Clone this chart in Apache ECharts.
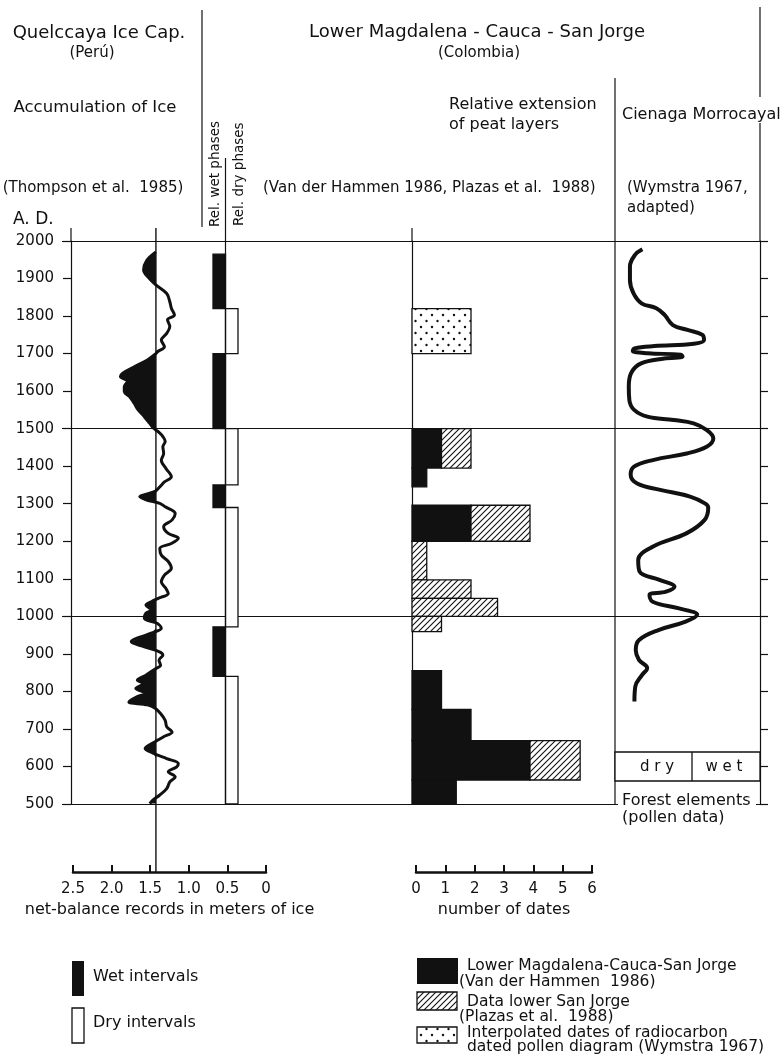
<!DOCTYPE html>
<html>
<head>
<meta charset="utf-8">
<script src="https://cdn.jsdelivr.net/npm/echarts@6/dist/echarts.min.js"></script>
<style>
  html, body { margin: 0; padding: 0; background: #fff; }
  #main { width: 781px; height: 1061px; }
</style>
</head>
<body>
<div id="main"></div>
<script>
var iceYears = [1971, 1948, 1923, 1901, 1883, 1860, 1838, 1821, 1803, 1790, 1772, 1754, 1736, 1718, 1705, 1700,
  1683, 1665, 1648, 1639, 1626, 1612, 1599, 1585, 1567, 1550, 1532, 1514, 1501, 1490, 1479, 1466, 1452, 1434,
  1416, 1394, 1372, 1358, 1345, 1332, 1319, 1310, 1301, 1292, 1274, 1257, 1239, 1221, 1208, 1194, 1181, 1163,
  1146, 1128, 1110, 1092, 1074, 1061, 1048, 1039, 1030, 1017, 1008, 995, 981, 968, 955, 932, 919, 906, 897,
  883, 870, 861, 852, 843, 830, 821, 808, 795, 786, 772, 764, 755, 741, 723, 706, 692, 679, 666, 648, 635,
  621, 608, 599, 586, 572, 559, 541, 524, 510, 501];
var iceValues = [1.40, 1.52, 1.56, 1.49, 1.40, 1.26, 1.22, 1.20, 1.16, 1.25, 1.22, 1.26, 1.33, 1.29, 1.38, 1.40,
  1.51, 1.68, 1.83, 1.86, 1.77, 1.81, 1.81, 1.74, 1.68, 1.63, 1.55, 1.48, 1.43, 1.36, 1.31, 1.28, 1.31, 1.30,
  1.33, 1.27, 1.20, 1.29, 1.35, 1.42, 1.61, 1.52, 1.35, 1.28, 1.15, 1.19, 1.30, 1.24, 1.11, 1.20, 1.35, 1.33,
  1.24, 1.20, 1.29, 1.33, 1.27, 1.24, 1.37, 1.46, 1.53, 1.46, 1.53, 1.55, 1.38, 1.33, 1.46, 1.72, 1.55, 1.36, 1.31,
  1.36, 1.34, 1.40, 1.47, 1.53, 1.64, 1.56, 1.66, 1.53, 1.64, 1.75, 1.51, 1.41, 1.34, 1.28, 1.26, 1.19, 1.30, 1.41, 1.54, 1.43,
  1.26, 1.11, 1.13, 1.24, 1.15, 1.22, 1.26, 1.35, 1.44, 1.48];
var ICE_REF = 1.4;
var iceTicks = [2.5, 2.0, 1.5, 1.0, 0.5, 0];

// relative wet / dry phases (years A.D.)
var wetFrom = [1820, 1500, 1290, 840];
var wetTo   = [1965, 1700, 1350, 972];
var dryFrom = [1700, 1350, 972, 500];
var dryTo   = [1820, 1500, 1290, 840];

// relative extension of peat layers, number of dates per period
var peatFrom = [1700, 1395, 1345, 1200, 1097, 1048, 1000, 959, 752, 669, 564, 500];
var peatTo   = [1820, 1500, 1395, 1296, 1200, 1097, 1048, 1000, 855, 752, 669, 564];
var vdHammen = [0, 1, 0.5, 2, 0, 0, 0, 0, 1, 2, 4, 1.5];
var plazas   = [0, 1, 0, 2, 0.5, 2, 2.9, 1, 0, 0, 1.7, 0];
var wymstra  = [2, 0, 0, 0, 0, 0, 0, 0, 0, 0, 0, 0];

// Cienaga Morrocayal forest elements (0 = dry, 100 = wet)
var morroYears = [1978, 1963, 1932, 1896, 1861, 1834, 1821, 1803, 1776, 1763, 1750, 1736, 1726, 1720, 1714,
  1707, 1701, 1697, 1692, 1687, 1674, 1648, 1612, 1576, 1550, 1532, 1523, 1514, 1496, 1474, 1452, 1434, 1417,
  1399, 1377, 1354, 1337, 1319, 1301, 1290, 1257, 1221, 1186, 1150, 1119, 1097, 1079, 1066, 1057, 1039, 1021,
  1004, 986, 964, 937, 910, 884, 862, 844, 813, 773];
var morroValues = [18.9, 13.8, 10.3, 10.3, 12.7, 18.3, 28.5, 34.2, 39.9, 50, 60.3, 61.4, 54.5, 27.1, 13.4,
  12.3, 22.6, 45.4, 46.6, 34, 18, 11.1, 9.5, 9.9, 13.2, 22.3, 40.5, 54.2, 63.4, 67.8, 63.2, 49.5, 26.8,
  13.1, 10.8, 15.3, 31.2, 51.8, 62, 64.3, 61.8, 49.2, 26.3, 16, 17, 30.7, 41, 35.2, 23.8, 26, 44.2,
  56.7, 48.7, 30.4, 16.6, 14.3, 16.5, 22.2, 18.7, 14, 13.4];

var INK = '#111';
var FONT = '"DejaVu Sans", sans-serif';

function makeHatch() {
  var c = document.createElement('canvas');
  c.width = 6; c.height = 6;
  var g = c.getContext('2d');
  g.fillStyle = '#fff'; g.fillRect(0, 0, 6, 6);
  g.strokeStyle = INK; g.lineWidth = 1.1;
  g.beginPath();
  g.moveTo(0, 6); g.lineTo(6, 0);
  g.moveTo(-1, 1); g.lineTo(1, -1);
  g.moveTo(5, 7); g.lineTo(7, 5);
  g.stroke();
  return c;
}
function makeDots() {
  var c = document.createElement('canvas');
  c.width = 11; c.height = 12;
  var g = c.getContext('2d');
  g.fillStyle = '#fff'; g.fillRect(0, 0, 11, 12);
  g.fillStyle = INK;
  g.beginPath(); g.arc(3, 3, 1.2, 0, Math.PI * 2); g.fill();
  g.beginPath(); g.arc(8.5, 9, 1.2, 0, Math.PI * 2); g.fill();
  return c;
}
var hatchFill = { image: makeHatch(), repeat: 'repeat' };
var dotFill = { image: makeDots(), repeat: 'repeat' };
var peatFills = [INK, hatchFill, dotFill];

// build stacked peat pieces
var peatItems = [];
for (var i = 0; i < peatFrom.length; i++) {
  var s = 0;
  [vdHammen[i], plazas[i], wymstra[i]].forEach(function (v, k) {
    if (v > 0) { peatItems.push([peatFrom[i], peatTo[i], s, s + v, k]); s += v; }
  });
}
var phaseItems = [];
wetFrom.forEach(function (f, i) { phaseItems.push([0, f, wetTo[i], 0]); });
dryFrom.forEach(function (f, i) { phaseItems.push([1, f, dryTo[i], 1]); });

var hid = { show: false };
function yHidden(grid) {
  return { gridIndex: grid, type: 'value', min: 500, max: 2000, show: false };
}
function txt(s, x, y, size, align, extra) {
  var el = {
    type: 'text', x: x, y: y, z: 100,
    style: {
      text: s, font: size + 'px ' + FONT, fill: INK,
      align: align || 'left', textAlign: align || 'left',
      verticalAlign: 'middle', textVerticalAlign: 'middle'
    }
  };
  return Object.assign(el, extra || {});
}
function ln(x1, y1, x2, y2, w) {
  return { type: 'line', z: 100, shape: { x1: x1, y1: y1, x2: x2, y2: y2 }, style: { stroke: INK, lineWidth: w || 1.2 } };
}
function box(x, y, w, h, fill) {
  return { type: 'rect', z: 100, shape: { x: x, y: y, width: w, height: h }, style: { fill: fill, stroke: INK, lineWidth: 1.3 } };
}
var bottomAxis = {
  axisLine: { show: true, onZero: false, lineStyle: { color: INK, width: 2.5 } },
  axisTick: { show: true, inside: true, length: 7, lineStyle: { color: INK, width: 2 } },
  axisLabel: { show: true, color: INK, fontSize: 15, fontFamily: FONT, margin: 10, showMinLabel: true, showMaxLabel: true },
  splitLine: hid,
  nameLocation: 'middle', nameGap: 30,
  nameTextStyle: { color: INK, fontSize: 16, fontFamily: FONT }
};
var yearLine = { show: true, onZero: false, lineStyle: { color: INK, width: 1.2 } };

var chart = echarts.init(document.getElementById('main'), null, { renderer: 'canvas' });
var option = {
  backgroundColor: '#fff',
  animation: false,
  grid: [
    { left: 71, top: 241, width: 193, height: 563, outerBoundsMode: 'none' },
    { left: 213, top: 241, width: 25, height: 563, outerBoundsMode: 'none' },
    { left: 412, top: 241, width: 177, height: 563, outerBoundsMode: 'none' },
    { left: 615, top: 241, width: 145, height: 563, outerBoundsMode: 'none' },
    { left: 62, top: 241, width: 706, height: 563, outerBoundsMode: 'none' },
    { left: 73, top: 871, width: 193, height: 1, outerBoundsMode: 'none' },
    { left: 416, top: 871, width: 176, height: 1, outerBoundsMode: 'none' }
  ],
  xAxis: [
    { gridIndex: 0, type: 'value', min: 0, max: 2.5, inverse: true, show: false },
    { gridIndex: 1, type: 'category', data: ['wet', 'dry'], show: false },
    { gridIndex: 2, type: 'value', min: 0, max: 6, show: false },
    { gridIndex: 3, type: 'value', min: 0, max: 100, show: false },
    { gridIndex: 4, type: 'value', min: 0, max: 1, show: false },
    Object.assign({ gridIndex: 5, type: 'value', min: 0, max: 2.5, interval: 0.5, inverse: true,
      name: 'net-balance records in meters of ice' }, bottomAxis, {
      axisLabel: Object.assign({}, bottomAxis.axisLabel, {
        formatter: function (v) { return iceTicks.indexOf(v) >= 0 && v !== 0 ? v.toFixed(1) : String(v); }
      })
    }),
    Object.assign({ gridIndex: 6, type: 'value', min: 0, max: 6, interval: 1, name: 'number of dates' }, bottomAxis)
  ],
  yAxis: [
    { gridIndex: 0, type: 'value', min: 500, max: 2000, interval: 100, position: 'left',
      axisLine: yearLine,
      axisTick: { show: true, length: 8, lineStyle: { color: INK, width: 1.2 } },
      axisLabel: { color: INK, fontSize: 15, fontFamily: FONT, margin: 17, showMinLabel: true, showMaxLabel: true,
        formatter: function (v) { return String(v); } },
      splitLine: hid },
    yHidden(1),
    { gridIndex: 2, type: 'value', min: 500, max: 2000, position: 'left',
      axisLine: yearLine, axisTick: hid, axisLabel: hid, splitLine: hid },
    { gridIndex: 3, type: 'value', min: 500, max: 2000, interval: 100, position: 'right',
      axisLine: yearLine,
      axisTick: { show: true, length: 8, lineStyle: { color: INK, width: 1.2 } },
      axisLabel: hid, splitLine: hid },
    { gridIndex: 4, type: 'value', min: 500, max: 2000, interval: 500,
      axisLine: hid, axisTick: hid, axisLabel: hid,
      splitLine: { show: true, lineStyle: { color: INK, width: 1.2 } } },
    { gridIndex: 5, type: 'value', min: 0, max: 1, show: false },
    { gridIndex: 6, type: 'value', min: 0, max: 1, show: false }
  ],
  series: [
    {
      type: 'custom', name: 'ice fill', xAxisIndex: 0, yAxisIndex: 0, z: 3,
      data: [[ICE_REF, iceYears[0]]],
      renderItem: function (params, api) {
        var pts = [api.coord([ICE_REF, iceYears[0]])];
        for (var i = 0; i < iceYears.length; i++) {
          pts.push(api.coord([Math.max(iceValues[i], ICE_REF), iceYears[i]]));
        }
        pts.push(api.coord([ICE_REF, iceYears[iceYears.length - 1]]));
        return { type: 'polygon', shape: { points: pts }, style: { fill: INK } };
      }
    },
    {
      type: 'line', name: 'ice', xAxisIndex: 0, yAxisIndex: 0, z: 4,
      data: iceYears.map(function (y, i) { return [iceValues[i], y]; }),
      smooth: 0.35, symbol: 'none',
      lineStyle: { color: INK, width: 3 }
    },
    {
      type: 'custom', name: 'phases', xAxisIndex: 1, yAxisIndex: 1,
      encode: { x: 0, y: [1, 2] },
      data: phaseItems,
      renderItem: function (params, api) {
        var w = api.size([1, 0])[0];
        var top = api.coord([api.value(0), api.value(2)]);
        var bot = api.coord([api.value(0), api.value(1)]);
        var wet = api.value(3) === 0;
        return {
          type: 'rect',
          shape: { x: top[0] - w / 2, y: top[1], width: w, height: bot[1] - top[1] },
          style: { fill: wet ? INK : '#fff', stroke: INK, lineWidth: 1.3 }
        };
      }
    },
    {
      type: 'custom', name: 'peat', xAxisIndex: 2, yAxisIndex: 2,
      encode: { x: [2, 3], y: [0, 1] },
      data: peatItems,
      renderItem: function (params, api) {
        var a = api.coord([api.value(2), api.value(1)]);
        var b = api.coord([api.value(3), api.value(0)]);
        return {
          type: 'rect',
          shape: { x: a[0], y: a[1], width: b[0] - a[0], height: b[1] - a[1] },
          style: { fill: peatFills[api.value(4)], stroke: INK, lineWidth: 1.3 }
        };
      }
    },
    {
      type: 'line', name: 'forest', xAxisIndex: 3, yAxisIndex: 3,
      data: morroYears.map(function (y, i) { return [morroValues[i], y]; }),
      smooth: 0.4, symbol: 'none',
      lineStyle: { color: INK, width: 4 }
    }
  ]
};
chart.setOption(option);

var refX = chart.convertToPixel({ xAxisIndex: 0 }, ICE_REF);
var splitX = chart.convertToPixel({ gridIndex: 1 }, [0, 2000])[0] + 6.25;

chart.setOption({
  graphic: [
    // header
    txt('Quelccaya Ice Cap.', 99, 33, 18, 'center'),
    txt('(Perú)', 92, 53, 15, 'center'),
    txt('Accumulation of Ice', 95, 108, 16.5, 'center'),
    txt('(Thompson et al.  1985)', 93, 188, 15, 'center'),
    txt('A. D.', 13, 220, 17),
    txt('Lower Magdalena - Cauca - San Jorge', 477, 32, 18, 'center'),
    txt('(Colombia)', 479, 53, 15, 'center'),
    txt('Relative extension', 449, 105, 16),
    txt('of peat layers', 449, 125, 16),
    txt('(Van der Hammen 1986, Plazas et al.  1988)', 263, 188, 15),
    txt('Cienaga Morrocayal', 622, 115, 16),
    txt('(Wymstra 1967,', 627, 188, 15),
    txt('adapted)', 627, 208, 15),
    txt('Rel. wet phases', 215, 227, 13.5, 'left', { rotation: Math.PI / 2 }),
    txt('Rel. dry phases', 239, 226, 13.5, 'left', { rotation: Math.PI / 2 }),
    // frame lines
    ln(202, 10, 202, 227),
    ln(splitX, 158, splitX, 804),
    ln(71, 228, 71, 241),
    ln(refX, 228, refX, 872, 1.4),
    ln(412, 228, 412, 241),
    ln(615, 78, 615, 804),
    ln(760, 7, 760, 97),
    ln(760, 123, 760, 241),
    // dry / wet scale of forest elements
    box(615, 752, 145, 29, '#fff'),
    ln(692, 752, 692, 781, 1.3),
    txt('d r y', 657, 767, 15, 'center'),
    txt('w e t', 724, 767, 15, 'center'),
    { type: 'rect', z: 99, shape: { x: 618, y: 794, width: 138, height: 17 }, style: { fill: '#fff' } },
    txt('Forest elements', 622, 801, 16),
    txt('(pollen data)', 622, 818, 16),
    // legend
    { type: 'rect', z: 100, shape: { x: 72, y: 961, width: 12, height: 35 }, style: { fill: INK } },
    txt('Wet intervals', 93, 977, 16),
    box(72, 1008, 12, 35, '#fff'),
    txt('Dry intervals', 93, 1023, 16),
    { type: 'rect', z: 100, shape: { x: 417, y: 958, width: 41, height: 26 }, style: { fill: INK } },
    txt('Lower Magdalena-Cauca-San Jorge', 467, 966, 15.5),
    txt('(Van der Hammen  1986)', 459, 982, 15.5),
    box(417, 992, 40, 18, hatchFill),
    txt('Data lower San Jorge', 467, 1002, 15.5),
    txt('(Plazas et al.  1988)', 459, 1017, 15.5),
    box(417, 1027, 40, 16, dotFill),
    txt('Interpolated dates of radiocarbon', 467, 1033, 15.5),
    txt('dated pollen diagram (Wymstra 1967)', 467, 1047, 15.5)
  ]
});
</script>
</body>
</html>
